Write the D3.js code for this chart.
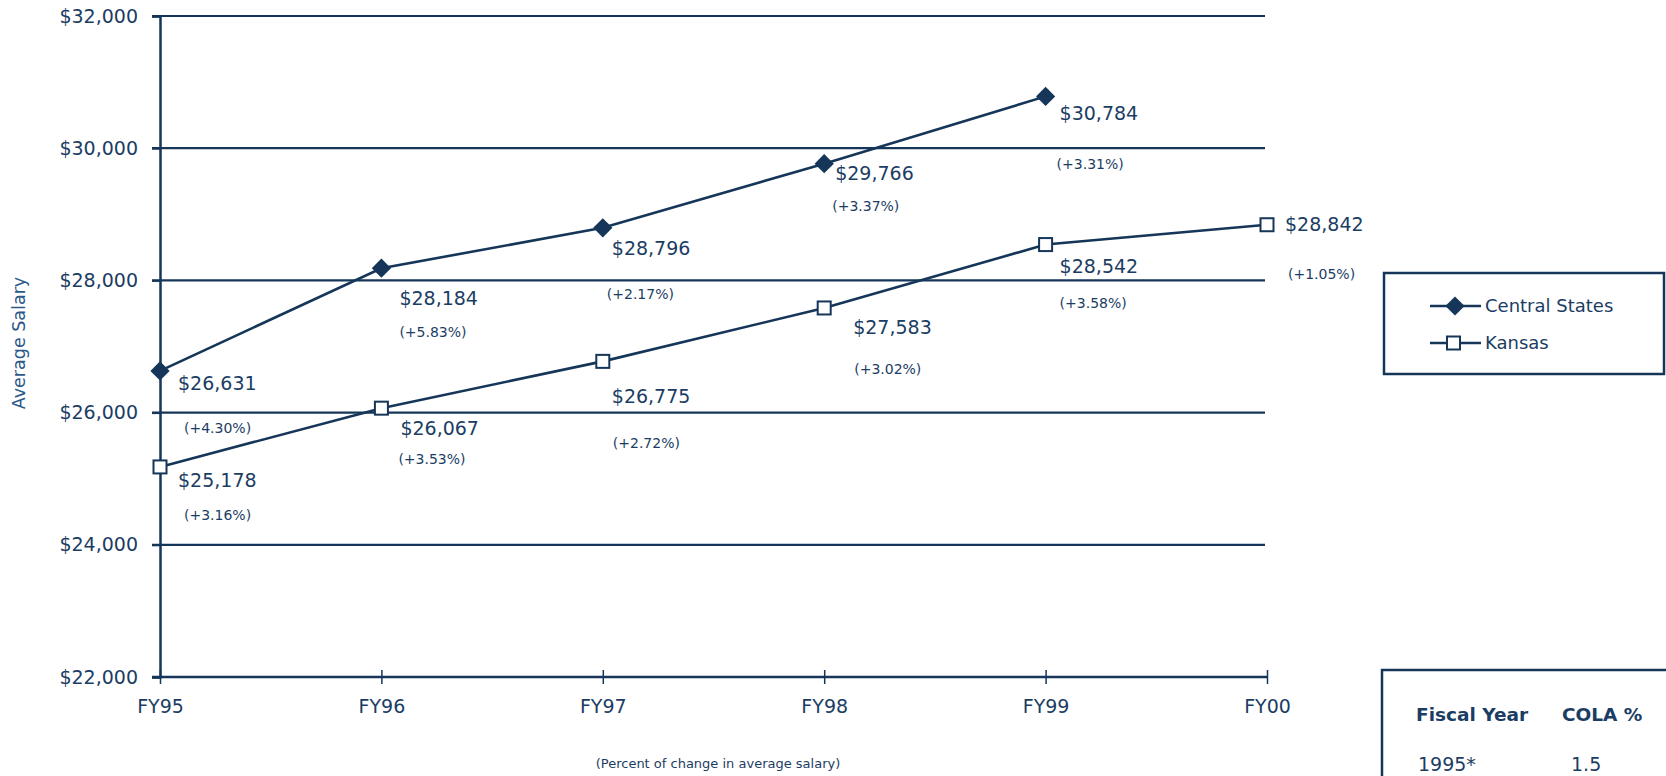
<!DOCTYPE html>
<html>
<head>
<meta charset="utf-8">
<script src="https://cdn.jsdelivr.net/npm/d3@7"></script>
<style>
  body { margin: 0; background: #fff; }
  text { font-family: "DejaVu Sans", Verdana, sans-serif; fill: #1b3d63; }
</style>
</head>
<body>
<div id="cnv"></div>
<script>
// data
var years = ["FY95", "FY96", "FY97", "FY98", "FY99", "FY00"];
var centralStates = [26631, 28184, 28796, 29766, 30784];
var centralPct = ["+4.30%", "+5.83%", "+2.17%", "+3.37%", "+3.31%"];
var kansas = [25178, 26067, 26775, 27583, 28542, 28842];
var kansasPct = ["+3.16%", "+3.53%", "+2.72%", "+3.02%", "+3.58%", "+1.05%"];
var yTicks = [22000, 24000, 26000, 28000, 30000, 32000];
var colaHeader = ["Fiscal Year", "COLA %"];
var colaRows = [["1995*", "1.5"]];

// label nudges (dx, dy of value label, dx, dy of percent label) relative to point
var centralNudge = [[18, 12, 24, 57], [18, 30, 18, 64], [9, 21, 4, 66], [11, 10, 8, 42], [14, 17, 11, 68]];
var kansasNudge = [[18, 13, 24, 48], [19, 20, 17, 51], [9, 35, 10, 82], [29, 19, 30, 61], [14, 22, 14, 59], [18, 0, 21, 49]];

var width = 1666, height = 776;
var navy = "#163659";

var svg = d3.select("#cnv").append("svg")
  .attr("width", width)
  .attr("height", height);

var xScale = d3.scalePoint().domain(years).range([160, 1267]);
var yScale = d3.scaleLinear().domain([22000, 32000]).range([677, 16]);

//horizontal grid lines
svg.append("g").selectAll("line")
  .data(yTicks.slice(1))
  .enter().append("line")
  .attr("x1", 152)
  .attr("x2", 1265)
  .attr("y1", function(d){ return yScale(d); })
  .attr("y2", function(d){ return yScale(d); })
  .attr("stroke", navy)
  .attr("stroke-width", 2.2);

//y axis
var yAxis = svg.append("g")
  .attr("transform", "translate(160,0)")
  .call(d3.axisLeft(yScale).tickValues(yTicks).tickSize(8).tickPadding(14)
    .tickFormat(function(d){ return "$" + d3.format(",")(d); }));
yAxis.select(".domain").attr("stroke", navy).attr("stroke-width", 2.5);
yAxis.selectAll(".tick line").attr("stroke", navy).attr("stroke-width", 2);
yAxis.selectAll(".tick text").attr("font-size", 19).attr("fill", "#1b3d63");

//x axis
var xAxis = svg.append("g")
  .attr("transform", "translate(0," + yScale(22000) + ")")
  .call(d3.axisBottom(xScale).tickSize(7).tickSizeOuter(0).tickPadding(16));
xAxis.select(".domain").attr("stroke", navy).attr("stroke-width", 2.5).attr("d", "M152,0H1267");
xAxis.selectAll(".tick line").attr("stroke", navy).attr("stroke-width", 1.5).attr("y1", -7);
xAxis.selectAll(".tick text").attr("font-size", 19).attr("fill", "#1b3d63");

//axis titles
svg.append("text")
  .attr("text-anchor", "middle")
  .attr("transform", "translate(25,343) rotate(-90)")
  .attr("font-size", 17.5)
  .style("fill", "#2b5888")
  .text("Average Salary");
svg.append("text")
  .attr("text-anchor", "middle")
  .attr("x", 718)
  .attr("y", 768)
  .attr("font-size", 13)
  .text("(Percent of change in average salary)");

var line = d3.line()
  .x(function(d, i){ return xScale(years[i]); })
  .y(function(d){ return yScale(d); });

svg.append("path").datum(centralStates)
  .attr("d", line).attr("fill", "none").attr("stroke", navy).attr("stroke-width", 2.6);
svg.append("path").datum(kansas)
  .attr("d", line).attr("fill", "none").attr("stroke", navy).attr("stroke-width", 2.6);

// diamond = square turned 45 degrees
var diamond = d3.symbol().type(d3.symbolSquare).size(185);

svg.append("g").selectAll("path")
  .data(centralStates)
  .enter().append("path")
  .attr("d", diamond)
  .attr("transform", function(d, i){ return "translate(" + xScale(years[i]) + "," + yScale(d) + ") rotate(45)"; })
  .attr("fill", navy);

svg.append("g").selectAll("rect")
  .data(kansas)
  .enter().append("rect")
  .attr("x", function(d, i){ return xScale(years[i]) - 6.5; })
  .attr("y", function(d){ return yScale(d) - 6.5; })
  .attr("width", 13)
  .attr("height", 13)
  .attr("fill", "#fff")
  .attr("stroke", navy)
  .attr("stroke-width", 2);

//data labels
function addLabels(values, pcts, nudge) {
  var g = svg.append("g");
  values.forEach(function(v, i){
    var x = xScale(years[i]), y = yScale(v);
    g.append("text")
      .attr("x", x + nudge[i][0])
      .attr("y", y + nudge[i][1])
      .attr("dy", "0.35em")
      .attr("font-size", 19)
      .text("$" + d3.format(",")(v));
    g.append("text")
      .attr("x", x + nudge[i][2])
      .attr("y", y + nudge[i][3])
      .attr("dy", "0.35em")
      .attr("font-size", 14)
      .text("(" + pcts[i] + ")");
  });
}
addLabels(centralStates, centralPct, centralNudge);
addLabels(kansas, kansasPct, kansasNudge);

//legend
var legend = svg.append("g");
legend.append("rect")
  .attr("x", 1384).attr("y", 273)
  .attr("width", 280).attr("height", 101)
  .attr("fill", "none").attr("stroke", navy).attr("stroke-width", 2.5);
var legendItems = [["Central States", "diamond"], ["Kansas", "square"]];
legendItems.forEach(function(d, i){
  var ly = 306 + i * 37;
  legend.append("line")
    .attr("x1", 1430).attr("x2", 1481)
    .attr("y1", ly).attr("y2", ly)
    .attr("stroke", navy).attr("stroke-width", 2.5);
  if (d[1] == "diamond") {
    legend.append("path")
      .attr("d", diamond)
      .attr("transform", "translate(1455," + ly + ") rotate(45)")
      .attr("fill", navy);
  } else {
    legend.append("rect")
      .attr("x", 1447).attr("y", ly - 6.5)
      .attr("width", 13).attr("height", 13)
      .attr("fill", "#fff").attr("stroke", navy).attr("stroke-width", 2);
  }
  legend.append("text")
    .attr("x", 1485).attr("y", ly)
    .attr("dy", "0.35em")
    .attr("font-size", 18)
    .text(d[0]);
});

//COLA table
var table = svg.append("g");
table.append("rect")
  .attr("x", 1382).attr("y", 670)
  .attr("width", 300).attr("height", 140)
  .attr("fill", "none").attr("stroke", navy).attr("stroke-width", 2.5);
var colX = [1416, 1562];
colaHeader.forEach(function(h, i){
  table.append("text")
    .attr("x", colX[i]).attr("y", 715)
    .attr("dy", "0.35em")
    .attr("font-size", 18.5)
    .attr("font-weight", "bold")
    .text(h);
});
colaRows.forEach(function(r, j){
  table.append("text")
    .attr("x", colX[0] + 2).attr("y", 764 + j * 40)
    .attr("dy", "0.35em")
    .attr("font-size", 19)
    .text(r[0]);
  table.append("text")
    .attr("x", colX[1] + 9).attr("y", 764 + j * 40)
    .attr("dy", "0.35em")
    .attr("font-size", 19)
    .text(r[1]);
});
</script>
</body>
</html>
